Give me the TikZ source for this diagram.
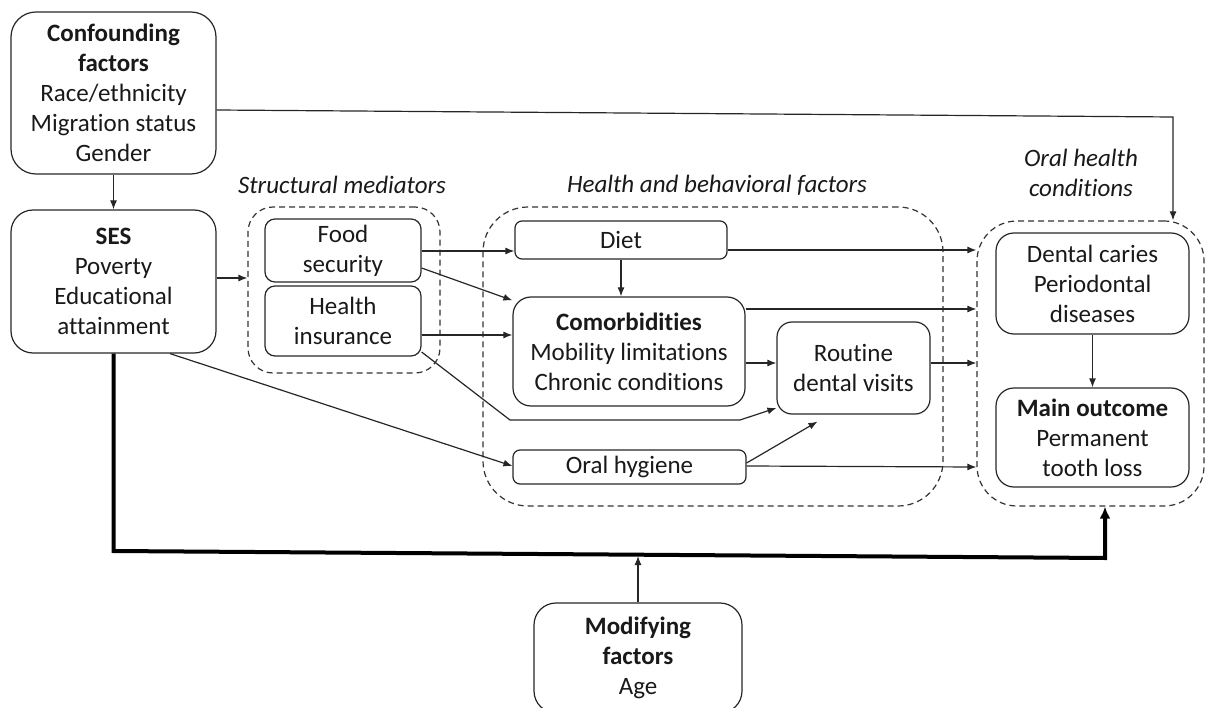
\documentclass[tikz,border=0pt]{standalone}
\usepackage{fontspec}
\setmainfont[Ligatures=NoCommon,RawFeature=-liga]{Carlito}
\usetikzlibrary{arrows.meta,calc}
\tikzset{
  box/.style={draw=black!85, line width=1.2pt, rounded corners=#1, align=center, inner sep=0pt,
    font=\fontsize{25}{30}\selectfont, text=black!90},
  box/.default=18pt,
  group/.style={draw=black!80, line width=1.2pt, dash pattern=on 6pt off 4pt, rounded corners=#1, inner sep=0pt},
  grouplabel/.style={font=\fontsize{25}{30}\selectfont\itshape, align=center, text=black!90},
  arr/.style={draw=black!85, line width=1.2pt, -{Latex[length=9pt,width=7pt]}},
  thickarr/.style={draw=black, line width=4pt, -{Latex[length=12pt,width=11pt]}},
}
\begin{document}
\begin{tikzpicture}[x=1pt,y=-1pt]
\useasboundingbox (0,0) rectangle (1206,708);
% group boxes
\node[group=25pt, minimum width=192pt, minimum height=166pt] (struct) at (344,290) {};
\node[group=45pt, minimum width=460pt, minimum height=299pt] (hb) at (713,356.5) {};
\node[group=40pt, minimum width=227pt, minimum height=285pt] (oh) at (1090.5,363.5) {};
\node[grouplabel] (lstruct) at (342,185) {Structural mediators};
\node[grouplabel] (lhb) at (717,185) {Health and behavioral factors};
\node[grouplabel] (loh) at (1081,173) {Oral health\\conditions};
% boxes
\node[box=25pt, minimum width=205pt, minimum height=162pt] (conf) at (113.5,93) {\textbf{Confounding}\\\textbf{factors}\\Race/ethnicity\\Migration status\\Gender};
\node[box=22pt, minimum width=205pt, minimum height=143pt] (ses) at (113.5,281.5) {\textbf{SES}\\Poverty\\Educational\\attainment};
\node[box=10pt, minimum width=156pt, minimum height=63pt] (food) at (343,250.5) {Food\\security};
\node[box=10pt, minimum width=156pt, minimum height=70pt] (ins) at (343,321) {Health\\insurance};
\node[box=7pt, minimum width=212pt, minimum height=38pt] (diet) at (621,240) {Diet};
\node[box=18pt, minimum width=232pt, minimum height=109pt] (comor) at (629,351.5) {\textbf{Comorbidities}\\Mobility limitations\\Chronic conditions};
\node[box=15pt, minimum width=153pt, minimum height=92pt] (routine) at (853.5,368) {Routine\\dental visits};
\node[box=7pt, minimum width=233pt, minimum height=34pt] (hyg) at (629.5,467) {Oral hygiene};
\node[box=18pt, minimum width=193pt, minimum height=101pt] (caries) at (1092.5,283.5) {Dental caries\\Periodontal\\diseases};
\node[box=18pt, minimum width=193pt, minimum height=99pt] (main) at (1092.5,437.5) {\textbf{Main outcome}\\Permanent\\tooth loss};
\node[box=22pt, minimum width=208pt, minimum height=110pt] (mod) at (638,658) {\textbf{Modifying}\\\textbf{factors}\\Age};
% connectors
\draw[arr] (conf.east |- 0,110) -- (1173,117) -- (oh.north -| 1173,0);
\draw[arr] (conf.south) -- (ses.north);
\draw[arr] (ses.east |- 0,278) -- (struct.west |- 0,278);
\draw[arr] (food.east |- 0,251) -- (diet.west |- 0,251);
\draw[arr] (food.east |- 0,268) -- ($(comor.north west)+(0,4)$);
\draw[arr] (ins.east |- 0,335) -- (comor.west |- 0,335);
\draw[arr] (ins.east |- 0,352) -- (510,420) -- (740,420) -- (routine.west |- 0,408);
\draw[arr] (ses.south -| 170,0) -- (hyg.west |- 0,466);
\draw[arr] (diet.south) -- (diet.south |- comor.north);
\draw[arr] (diet.east |- 0,250) -- (oh.west |- 0,250);
\draw[arr] (comor.east |- 0,309) -- (oh.west |- 0,309);
\draw[arr] (comor.east |- 0,363) -- (routine.west |- 0,363);
\draw[arr] (routine.east |- 0,363) -- (oh.west |- 0,363);
\draw[arr] (hyg.east |- 0,466) -- (oh.west |- 0,467);
\draw[arr] (hyg.east |- 0,463) -- ($(routine.south)+(-36,7)$);
\draw[arr] (caries.south) -- (main.north);
\coordinate (bendL) at (113.5,551);
\coordinate (bendR) at (1105,558);
\draw[thickarr, line join=miter] (ses.south) -- (bendL) -- (bendR) -- (oh.south -| bendR);
\draw[arr] (mod.north) -- (mod.north |- 0,556);
\end{tikzpicture}
\end{document}
